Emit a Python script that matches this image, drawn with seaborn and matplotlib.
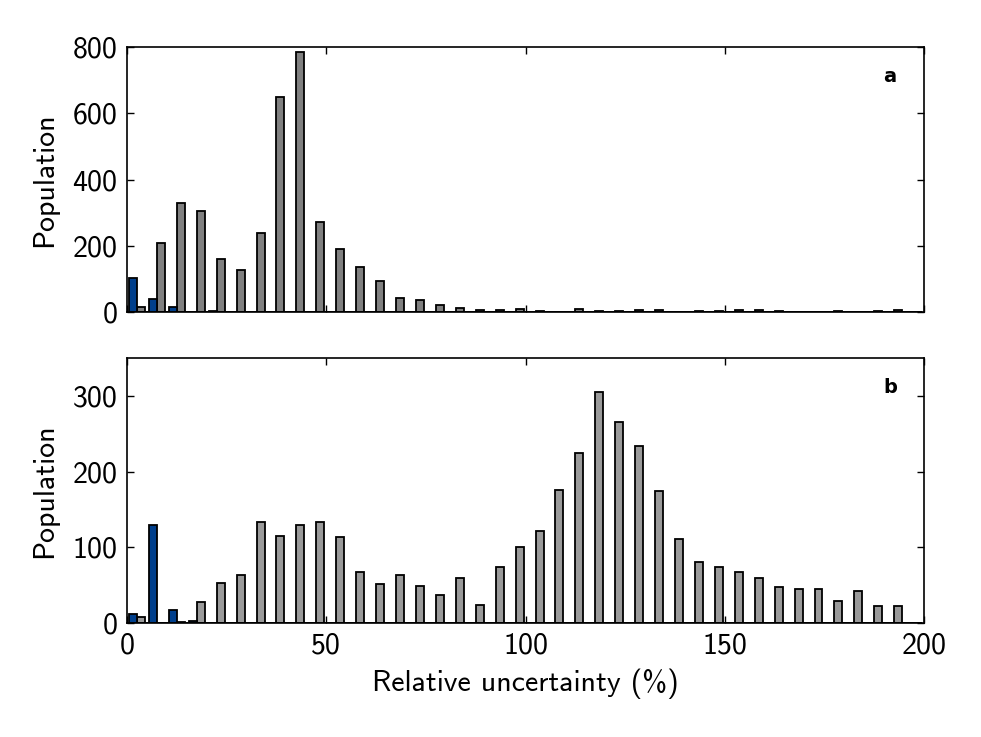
import numpy as np
import pandas as pd
import matplotlib
matplotlib.use("Agg")
import matplotlib.pyplot as plt
import seaborn as sns

# ---- data (counts per 5 % bin, 0-200 %) ----
bin_edges = np.arange(0, 201, 5)

a_blue = [103, 39, 15, 0, 2, 0, 0, 0, 0, 0,
          0, 0, 1, 0, 0, 0, 0, 0, 0, 0,
          0, 0, 0, 0, 0, 0, 0, 0, 0, 0,
          0, 0, 0, 0, 0, 0, 0, 0, 0, 0]
a_gray = [15, 207, 330, 305, 161, 126, 240, 649, 784, 272,
          191, 135, 93, 41, 37, 21, 12, 5, 6, 8,
          2, 1, 9, 2, 2, 6, 5, 0, 2, 2,
          5, 5, 4, 1, 1, 2, 1, 4, 6, 0]

b_blue = [12, 130, 17, 2, 0, 0, 0, 0, 0, 0,
          0, 0, 0, 0, 0, 0, 0, 0, 0, 0,
          0, 0, 0, 0, 0, 0, 0, 0, 0, 0,
          0, 0, 0, 0, 0, 0, 0, 0, 0, 0]
b_gray = [8, 0, 1, 28, 53, 63, 133, 115, 130, 133,
          114, 67, 51, 64, 49, 37, 59, 24, 74, 100,
          122, 176, 224, 305, 266, 234, 174, 111, 81, 74,
          68, 59, 48, 45, 45, 29, 42, 22, 22, 0]

series_names = ["blue", "gray"]
panel_labels = ["a", "b"]
x_ticks = [0, 50, 100, 150, 200]
a_yticks = [0, 200, 400, 600, 800]
b_yticks = [0, 100, 200, 300]
a_ylim = (0, 800)
b_ylim = (0, 350)
x_label = "Relative uncertainty (%)"
y_label = "Population"

# ---- style ----
sns.set_style("ticks")
plt.rcParams.update({
    "font.family": ["cmss10", "DejaVu Sans"],
    "axes.unicode_minus": False,
    "text.color": "black",
    "axes.labelcolor": "black",
    "xtick.direction": "in",
    "ytick.direction": "in",
    "xtick.top": True,
    "ytick.right": True,
    "xtick.major.size": 5,
    "ytick.major.size": 5,
    "xtick.major.width": 1.0,
    "ytick.major.width": 1.0,
    "axes.linewidth": 1.2,
    "axes.edgecolor": "black",
    "xtick.color": "black",
    "ytick.color": "black",
})

blue_col = "#003f8c"
gray_cols = ["#808080", "#9a9a9a"]
fs = 21.5

# sub-bins: blue in first 40 % of each bin (offset 10 %), gray next 40 %
left = bin_edges[:-1]
w = np.diff(bin_edges)
sub_edges = np.sort(np.concatenate([left + 0.1 * w, left + 0.5 * w, left + 0.9 * w])).tolist()


def make_df(blue, gray):
    pos_blue = left + 0.3 * w
    pos_gray = left + 0.7 * w
    return pd.DataFrame({
        "pos": np.concatenate([pos_blue, pos_gray]),
        "count": np.concatenate([blue, gray]).astype(float),
        "series": [series_names[0]] * len(blue) + [series_names[1]] * len(gray),
    })


fig = plt.figure(figsize=(9.81, 7.37), dpi=100)
ax_a = fig.add_axes([0.1295, 0.5767, 0.8125, 0.3593])
ax_b = fig.add_axes([0.1295, 0.1547, 0.8125, 0.3595])

panels = [
    (ax_a, a_blue, a_gray, a_yticks, a_ylim, gray_cols[0], panel_labels[0]),
    (ax_b, b_blue, b_gray, b_yticks, b_ylim, gray_cols[1], panel_labels[1]),
]

for ax, blue, gray, yt, yl, gcol, lab in panels:
    df = make_df(blue, gray)
    sns.histplot(data=df, x="pos", weights="count", hue="series",
                 hue_order=series_names, bins=sub_edges, multiple="layer",
                 palette={series_names[0]: blue_col, series_names[1]: gcol},
                 alpha=1, edgecolor="black", linewidth=1.3, legend=False, ax=ax)
    ax.set_xlim(bin_edges[0], bin_edges[-1])
    ax.set_ylim(*yl)
    ax.set_yticks(yt)
    ax.set_yticklabels([str(t) for t in yt], fontsize=fs)
    ax.set_xticks(x_ticks)
    ax.set_ylabel(y_label, fontsize=fs, labelpad=10)
    ax.set_xlabel("")
    ax.text(0.957, 0.89, lab, transform=ax.transAxes, fontsize=14,
            fontweight="bold", family="DejaVu Sans", color="black",
            ha="center", va="center")
    for s in ax.spines.values():
        s.set_visible(True)
    ax.tick_params(axis="both", which="major", pad=7)

ax_a.set_xticklabels([])
ax_b.set_xticklabels([str(t) for t in x_ticks], fontsize=fs)
ax_b.set_xlabel(x_label, fontsize=fs, labelpad=6)

fig.savefig("out.png", dpi=100)
